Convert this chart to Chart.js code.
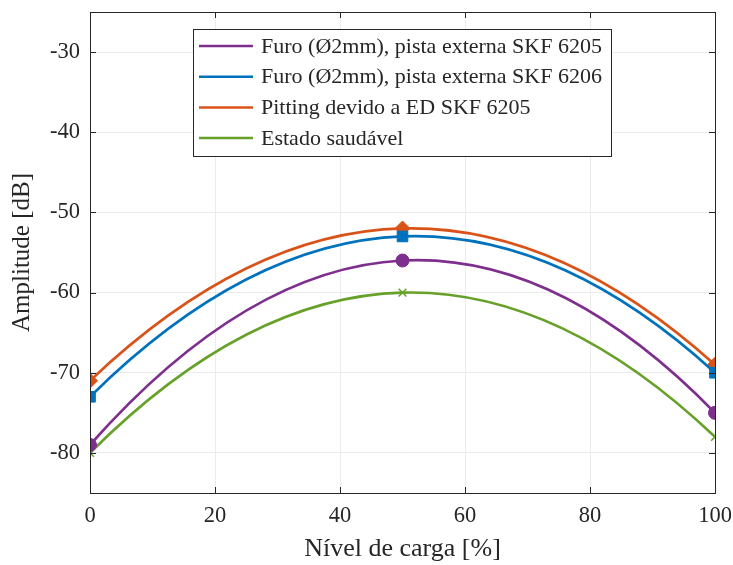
<!DOCTYPE html>
<html>
<head>
<meta charset="utf-8">
<script src="https://cdn.jsdelivr.net/npm/chart.js@4"></script>
<style>
  html, body { margin: 0; padding: 0; background: #fff; }
  #box { width: 733px; height: 565px; }
</style>
</head>
<body>
<div id="box"><canvas id="myChart" width="733" height="565"></canvas></div>
<script>
// ===== data =====
const loadLevels = [0, 50, 100];
const furo6205 = [-79, -56, -75];
const furo6206 = [-73, -53, -70];
const pitting6205 = [-71, -52, -69];
const saudavel = [-80, -60, -78];
const xTicks = [0, 20, 40, 60, 80, 100];
const yTicks = [-80, -70, -60, -50, -40, -30];

const FONT = "'Liberation Serif', 'DejaVu Serif', serif";
const INK = "#262626";

function pts(values) {
  return loadLevels.map((x, i) => ({ x: x, y: values[i] }));
}

// bend each line like the parabola through its three points
const parabolaPlugin = {
  id: "parabola",
  beforeDatasetDraw(chart, args) {
    const line = args.meta.dataset;
    line.updateControlPoints(chart.chartArea, "x");
    const p = line.points;
    if (p.length !== 3) return;
    const h = (p[2].x - p[0].x) / 2;
    const slopes = [
      (-3 * p[0].y + 4 * p[1].y - p[2].y) / (2 * h),
      (p[2].y - p[0].y) / (2 * h),
      (p[0].y - 4 * p[1].y + 3 * p[2].y) / (2 * h),
    ];
    const d = (p[1].x - p[0].x) / 3;
    p.forEach((pt, i) => {
      pt.cp1x = pt.x - d;
      pt.cp1y = pt.y - slopes[i] * d;
      pt.cp2x = pt.x + d;
      pt.cp2y = pt.y + slopes[i] * d;
    });
  },
};

// box + inward ticks (matlab style)
const frameTicks = {
  id: "frameTicks",
  afterDatasetsDraw(chart) {
    const { ctx, chartArea: a } = chart;
    const xs = chart.scales.x, ys = chart.scales.y;
    ctx.save();
    ctx.strokeStyle = INK;
    ctx.lineWidth = 1;
    ctx.beginPath();
    xTicks.forEach((v) => {
      const px = Math.round(xs.getPixelForValue(v)) + 0.5;
      ctx.moveTo(px, a.bottom); ctx.lineTo(px, a.bottom - 6);
      ctx.moveTo(px, a.top); ctx.lineTo(px, a.top + 6);
    });
    yTicks.forEach((v) => {
      const py = Math.round(ys.getPixelForValue(v)) + 0.5;
      ctx.moveTo(a.left, py); ctx.lineTo(a.left + 6, py);
      ctx.moveTo(a.right, py); ctx.lineTo(a.right - 6, py);
    });
    ctx.stroke();
    ctx.strokeRect(Math.round(a.left) + 0.5, Math.round(a.top) + 0.5,
      Math.round(a.right - a.left), Math.round(a.bottom - a.top));
    ctx.restore();
  },
};

// legend inside the plot
const boxLegend = {
  id: "boxLegend",
  afterDraw(chart) {
    const ctx = chart.ctx;
    const x0 = 193.5, y0 = 29.5, w = 418, h = 127;
    ctx.save();
    ctx.fillStyle = "#fff";
    ctx.fillRect(x0, y0, w, h);
    ctx.strokeStyle = INK;
    ctx.lineWidth = 1;
    ctx.strokeRect(x0, y0, w, h);
    ctx.font = "22px " + FONT;
    ctx.textBaseline = "middle";
    chart.data.datasets.forEach((ds, i) => {
      const cy = 46 + i * 30.7;
      ctx.strokeStyle = ds.borderColor;
      ctx.lineWidth = 2.5;
      ctx.beginPath();
      ctx.moveTo(199, cy);
      ctx.lineTo(253, cy);
      ctx.stroke();
      ctx.fillStyle = INK;
      ctx.fillText(ds.label, 261, cy + 1);
    });
    ctx.restore();
  },
};

const series = [
  { label: "Furo (Ø2mm), pista externa SKF 6205", data: furo6205, color: "#7E2F8E", style: "circle", r: 6.5 },
  { label: "Furo (Ø2mm), pista externa SKF 6206", data: furo6206, color: "#0072BD", style: "rect", r: 7.5 },
  { label: "Pitting devido a ED SKF 6205", data: pitting6205, color: "#D95319", style: "rectRot", r: 7.5 },
  { label: "Estado saudável", data: saudavel, color: "#67A12A", style: "crossRot", r: 5.5 },
];

let myChart = document.getElementById("myChart").getContext("2d");
let lineChart = new Chart(myChart, {
  type: "line",
  data: {
    datasets: series.map((s) => ({
      label: s.label,
      data: pts(s.data),
      borderColor: s.color,
      backgroundColor: s.color,
      pointBackgroundColor: s.color,
      pointBorderColor: s.color,
      pointStyle: s.style,
      pointRadius: s.r,
      pointBorderWidth: s.style === "crossRot" ? 1.5 : 1,
      borderWidth: 2.7,
      tension: 0.4,
      fill: false,
    })),
  },
  options: {
    responsive: false,
    animation: false,
    layout: { padding: { left: 0, top: 12, right: 18, bottom: 0 } },
    plugins: {
      legend: { display: false },
      tooltip: { enabled: false },
    },
    scales: {
      x: {
        type: "linear",
        min: 0,
        max: 100,
        afterFit: (s) => { s.height = 72; s.paddingLeft = 0; s.paddingRight = 0; },
        afterBuildTicks: (s) => { s.ticks = xTicks.map((v) => ({ value: v })); },
        grid: { color: "#ebebeb", drawTicks: false },
        border: { display: false },
        ticks: { color: INK, font: { family: FONT, size: 22.5 }, padding: 10, maxRotation: 0 },
        title: {
          display: true,
          text: "Nível de carga [%]",
          color: INK,
          font: { family: FONT, size: 26 },
          padding: { top: 0, bottom: 0 },
        },
      },
      y: {
        type: "linear",
        min: -85,
        max: -25,
        afterFit: (s) => { s.width = 90; s.paddingTop = 0; s.paddingBottom = 0; },
        afterBuildTicks: (s) => { s.ticks = yTicks.map((v) => ({ value: v })); },
        grid: { color: "#ebebeb", drawTicks: false },
        border: { display: false },
        ticks: { color: INK, font: { family: FONT, size: 22.5 }, padding: 10 },
        title: {
          display: true,
          text: "Amplitude [dB]",
          color: INK,
          font: { family: FONT, size: 25 },
          padding: { top: 7, bottom: 0 },
        },
      },
    },
  },
  plugins: [parabolaPlugin, frameTicks, boxLegend],
});
</script>
</body>
</html>
